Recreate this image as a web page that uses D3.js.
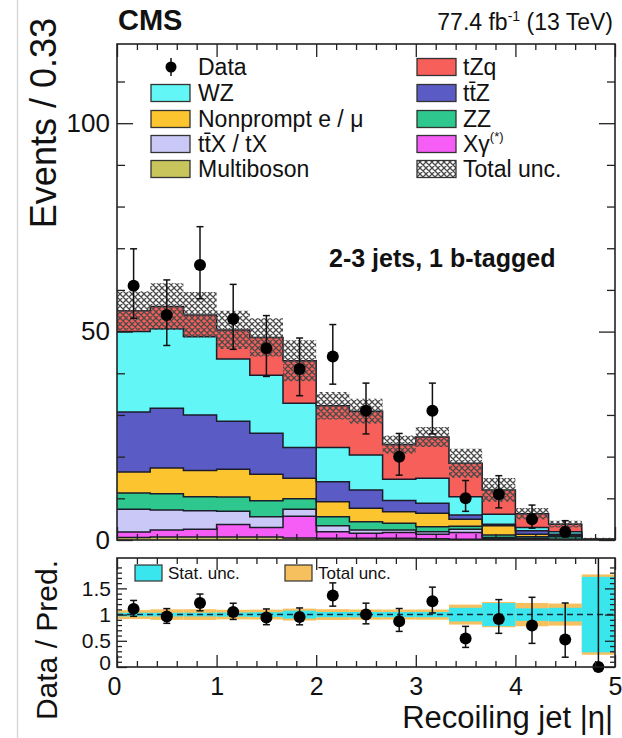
<!DOCTYPE html>
<html>
<head>
<meta charset="utf-8">
<script src="https://cdn.jsdelivr.net/npm/d3@7"></script>
<style>
  body { margin: 0; background: #fff; }
  svg { display: block; }
  text { font-family: "Liberation Sans", Arial, Helvetica, sans-serif; fill: #111; }
</style>
</head>
<body>
<svg id="chart" width="622" height="738"></svg>
<script>
// ---- binning: recoiling jet |eta| from 0 to 5 in 15 bins ----
const nBins = 15;
const etaMax = 5;

// ---- observed events per bin ----
const dataCounts   = [61, 54, 66, 53, 46, 41, 44, 31, 20, 31, 10, 11, 5, 2, 0];
const dataErrLow   = [7.79, 7.33, 8.11, 7.26, 6.76, 6.38, 6.61, 5.55, 4.44, 5.55, 3.12, 3.29, 2.16, 1.29, 0];
const dataErrHigh  = [8.86, 8.40, 9.17, 8.33, 7.84, 7.46, 7.69, 6.64, 5.56, 6.64, 4.27, 4.43, 3.38, 2.64, 1.84];

// ---- predicted yields per process (stacked bottom to top) ----
const multiboson = [0.6, 0.7, 0.7, 0.7, 0.7, 0.5, 0.4, 0.4, 0.4, 0.3, 0.2, 0.1, 0.1, 0.05, 0.02];
const xgamma     = [1.3, 1.7, 1.9, 3.0, 2.3, 5.2, 1.6, 1.2, 1.4, 1.1, 1.6, 0.3, 0.1, 0.05, 0.01];
const ttxTx      = [5.5, 4.8, 4.4, 3.2, 2.6, 1.7, 1.4, 0.8, 0.6, 0.6, 0.8, 0.2, 0.2, 0.1, 0.02];
const zz         = [3.9, 3.9, 3.4, 3.4, 3.8, 2.5, 2.2, 2.0, 1.6, 1.2, 0.7, 0.6, 0.4, 0.6, 0.03];
const nonprompt  = [5.0, 6.2, 6.3, 6.7, 6.4, 4.9, 3.6, 3.2, 2.8, 3.2, 1.7, 2.2, 0.6, 0.2, 0.02];
const ttz        = [14.4, 14.3, 13.3, 11.5, 9.8, 7.4, 4.8, 4.4, 2.7, 2.4, 1.0, 0.4, 0.8, 0.4, 0.03];
const wz         = [19.3, 19.1, 18.8, 14.9, 13.9, 10.6, 8.2, 8.4, 5.1, 6.0, 4.4, 2.4, 0.8, 0.6, 0.07];
const tzq        = [5.0, 5.3, 5.2, 7.0, 9.1, 10.2, 10.0, 10.5, 8.3, 9.9, 8.0, 5.8, 3.3, 1.8, 0.1];

// ---- uncertainties on the prediction ----
const totalUnc   = [4.7, 5.6, 5.5, 4.6, 4.6, 4.9, 3.3, 3.0, 2.2, 2.4, 3.5, 2.9, 1.4, 0.8, 0.23];
const statUncRel = [0.035, 0.035, 0.035, 0.04, 0.045, 0.075, 0.05, 0.05, 0.05, 0.05, 0.13, 0.22, 0.12, 0.13, 0.72];

// ---- axis ticks ----
const xMajorTicks = [0, 1, 2, 3, 4, 5];
const yMainMajor  = [0, 50, 100];
const yRatioMajor = [0, 0.5, 1, 1.5];

const processes = [
  { key: "multiboson", label: "Multiboson", values: multiboson, color: "#c8c55c" },
  { key: "xgamma",     label: "Xγ",         values: xgamma,     color: "#f65cf6" },
  { key: "ttx",        label: "tt\u0304X / tX", values: ttxTx,  color: "#c9c8f6" },
  { key: "zz",         label: "ZZ",         values: zz,         color: "#2ec88e" },
  { key: "nonprompt",  label: "Nonprompt e / μ", values: nonprompt, color: "#fcc42e" },
  { key: "ttz",        label: "tt\u0304Z",  values: ttz,        color: "#5b5bc6" },
  { key: "wz",         label: "WZ",         values: wz,         color: "#62f6f6" },
  { key: "tzq",        label: "tZq",        values: tzq,        color: "#f65f5a" }
];
const colorOf = Object.fromEntries(processes.map(p => [p.key, p.color]));

const edges = d3.range(nBins + 1).map(i => i * etaMax / nBins);
const centers = d3.range(nBins).map(i => (edges[i] + edges[i + 1]) / 2);

const rows = d3.range(nBins).map(i => {
  const r = { bin: i };
  processes.forEach(p => { r[p.key] = p.values[i]; });
  return r;
});
const stacked = d3.stack().keys(processes.map(p => p.key))(rows);
const totals = rows.map((r, i) => d3.sum(processes, p => p.values[i]));

// ---- layout ----
const L = 117, R = 615;
const mainTop = 44, mainBot = 540;
const ratTop = 558, ratBot = 667;

const x = d3.scaleLinear().domain([0, etaMax]).range([L, R]);
const y = d3.scaleLinear().domain([0, 119]).range([mainBot, mainTop]);
const yr = d3.scaleLinear().domain([0, 2.08]).range([ratBot, ratTop]);

const svg = d3.select("#chart");
const defs = svg.append("defs");

const hatch = defs.append("pattern")
  .attr("id", "hatch").attr("width", 6).attr("height", 6)
  .attr("patternUnits", "userSpaceOnUse");
hatch.append("path").attr("d", "M0,0 L6,6 M6,0 L0,6 M-1,5 L1,7 M5,-1 L7,1")
  .attr("stroke", "#4a4a4a").attr("stroke-width", 1.3).attr("fill", "none");

defs.append("clipPath").attr("id", "clipMain")
  .append("rect").attr("x", L).attr("y", mainTop).attr("width", R - L).attr("height", mainBot - mainTop);
defs.append("clipPath").attr("id", "clipRatio")
  .append("rect").attr("x", L).attr("y", ratTop).attr("width", R - L).attr("height", ratBot - ratTop);

// page border line on the left
svg.append("line").attr("x1", 17.5).attr("x2", 17.5).attr("y1", 0).attr("y2", 738)
  .attr("stroke", "#d9d9d9").attr("stroke-width", 1.5);

// ---- step path helpers ----
function stepPoints(lo, hi) {
  const pts = [];
  for (let i = 0; i < nBins; i++) {
    pts.push({ x: edges[i], y0: lo(i), y1: hi(i) });
    pts.push({ x: edges[i + 1], y0: lo(i), y1: hi(i) });
  }
  return pts;
}
const stepArea = d3.area().x(d => x(d.x)).y0(d => y(d.y0)).y1(d => y(d.y1));
const stepLine = d3.line().x(d => x(d.x)).y(d => y(d.y1));

const main = svg.append("g").attr("clip-path", "url(#clipMain)");

// stacked fills
stacked.forEach(layer => {
  const pts = stepPoints(i => layer[i][0], i => layer[i][1]);
  main.append("path").attr("d", stepArea(pts)).attr("fill", colorOf[layer.key]);
});
// outlines of each stacked histogram
stacked.forEach(layer => {
  const pts = stepPoints(i => layer[i][0], i => layer[i][1]);
  main.append("path").attr("d", stepLine(pts))
    .attr("fill", "none").attr("stroke", "#1c1c2a").attr("stroke-width", 1.5);
});

// total uncertainty band
const uncPts = stepPoints(i => Math.max(0, totals[i] - totalUnc[i]), i => totals[i] + totalUnc[i]);
main.append("path").attr("d", stepArea(uncPts)).attr("fill", "url(#hatch)");

// data points
const capW = 3.5;
const dataG = svg.append("g");
d3.range(nBins).filter(i => dataCounts[i] > 0).forEach(i => {
  const cx = x(centers[i]);
  const yl = y(dataCounts[i] - dataErrLow[i]), yh = y(dataCounts[i] + dataErrHigh[i]);
  dataG.append("line").attr("x1", cx).attr("x2", cx).attr("y1", yl).attr("y2", yh)
    .attr("stroke", "#111").attr("stroke-width", 1.5);
  [yl, yh].forEach(v => dataG.append("line").attr("x1", cx - capW).attr("x2", cx + capW)
    .attr("y1", v).attr("y2", v).attr("stroke", "#111").attr("stroke-width", 1.5));
  dataG.append("circle").attr("cx", cx).attr("cy", y(dataCounts[i])).attr("r", 6).attr("fill", "#000");
});

// ---- axes of the main panel ----
function axisStyle(g) {
  g.select(".domain").remove();
  g.selectAll(".tick line").attr("stroke", "#222").attr("stroke-width", 1.3);
}
const minorX = d3.range(0, 5.001, 0.2).filter(v => Math.abs(v - Math.round(v)) > 1e-6);
const minorYMain = d3.range(10, 119, 10).filter(v => v % 50 !== 0);

svg.append("g").attr("transform", `translate(0,${mainBot})`)
  .call(d3.axisBottom(x).tickValues(xMajorTicks).tickSize(-13).tickFormat("")).call(axisStyle);
svg.append("g").attr("transform", `translate(0,${mainBot})`)
  .call(d3.axisBottom(x).tickValues(minorX).tickSize(-6).tickFormat("")).call(axisStyle);
svg.append("g").attr("transform", `translate(0,${mainTop})`)
  .call(d3.axisTop(x).tickValues(xMajorTicks).tickSize(-13).tickFormat("")).call(axisStyle);
svg.append("g").attr("transform", `translate(0,${mainTop})`)
  .call(d3.axisTop(x).tickValues(minorX).tickSize(-6).tickFormat("")).call(axisStyle);

const yMainLeft = svg.append("g").attr("transform", `translate(${L},0)`)
  .call(d3.axisLeft(y).tickValues(yMainMajor).tickSize(-16).tickPadding(7).tickFormat(d3.format("d")))
  .call(axisStyle);
yMainLeft.selectAll("text").attr("font-size", 26).attr("fill", "#222")
  .style("font-family", '"Liberation Sans", Arial, sans-serif');
svg.append("g").attr("transform", `translate(${L},0)`)
  .call(d3.axisLeft(y).tickValues(minorYMain).tickSize(-8).tickFormat("")).call(axisStyle);
svg.append("g").attr("transform", `translate(${R},0)`)
  .call(d3.axisRight(y).tickValues(yMainMajor).tickSize(-16).tickFormat("")).call(axisStyle);
svg.append("g").attr("transform", `translate(${R},0)`)
  .call(d3.axisRight(y).tickValues(minorYMain).tickSize(-8).tickFormat("")).call(axisStyle);

svg.append("rect").attr("x", L).attr("y", mainTop).attr("width", R - L).attr("height", mainBot - mainTop)
  .attr("fill", "none").attr("stroke", "#222").attr("stroke-width", 1.6);

// ---- ratio panel ----
const ratio = svg.append("g").attr("clip-path", "url(#clipRatio)");
d3.range(nBins).forEach(i => {
  const rel = totalUnc[i] / totals[i];
  ratio.append("rect").attr("x", x(edges[i])).attr("width", x(edges[i + 1]) - x(edges[i]))
    .attr("y", yr(1 + rel)).attr("height", yr(1 - rel) - yr(1 + rel)).attr("fill", "#f7c05e");
});
d3.range(nBins).forEach(i => {
  const rel = statUncRel[i];
  ratio.append("rect").attr("x", x(edges[i])).attr("width", x(edges[i + 1]) - x(edges[i]))
    .attr("y", yr(1 + rel)).attr("height", yr(1 - rel) - yr(1 + rel)).attr("fill", "#3ae6ee");
});
ratio.append("line").attr("x1", L).attr("x2", R).attr("y1", yr(1)).attr("y2", yr(1))
  .attr("stroke", "#1a2a3a").attr("stroke-width", 1.5).attr("stroke-dasharray", "6,4");

d3.range(nBins).forEach(i => {
  const cx = x(centers[i]);
  const rv = dataCounts[i] / totals[i];
  const yl = yr(rv - dataErrLow[i] / totals[i]), yh = yr(rv + dataErrHigh[i] / totals[i]);
  ratio.append("line").attr("x1", cx).attr("x2", cx).attr("y1", yl).attr("y2", yh)
    .attr("stroke", "#111").attr("stroke-width", 1.5);
  [yl, yh].forEach(v => ratio.append("line").attr("x1", cx - capW).attr("x2", cx + capW)
    .attr("y1", v).attr("y2", v).attr("stroke", "#111").attr("stroke-width", 1.5));
});
// markers are not clipped so the zero point sits on the frame
d3.range(nBins).forEach(i => {
  svg.append("circle").attr("cx", x(centers[i])).attr("cy", yr(dataCounts[i] / totals[i]))
    .attr("r", 6).attr("fill", "#000");
});

const minorYRatio = d3.range(0.1, 2.08, 0.1).filter(v => Math.abs(v * 2 - Math.round(v * 2)) > 1e-6);
const xr = svg.append("g").attr("transform", `translate(0,${ratBot})`)
  .call(d3.axisBottom(x).tickValues(xMajorTicks).tickSize(-12).tickPadding(10).tickFormat(d3.format("d")))
  .call(axisStyle);
xr.selectAll("text").attr("font-size", 25).attr("fill", "#222")
  .style("font-family", '"Liberation Sans", Arial, sans-serif')
  .attr("dx", d => d === 0 ? -3 : 0);
svg.append("g").attr("transform", `translate(0,${ratBot})`)
  .call(d3.axisBottom(x).tickValues(minorX).tickSize(-6).tickFormat("")).call(axisStyle);
svg.append("g").attr("transform", `translate(0,${ratTop})`)
  .call(d3.axisTop(x).tickValues(xMajorTicks).tickSize(-12).tickFormat("")).call(axisStyle);
svg.append("g").attr("transform", `translate(0,${ratTop})`)
  .call(d3.axisTop(x).tickValues(minorX).tickSize(-6).tickFormat("")).call(axisStyle);

const yrl = svg.append("g").attr("transform", `translate(${L},0)`)
  .call(d3.axisLeft(yr).tickValues(yRatioMajor).tickSize(-10).tickPadding(6).tickFormat(d => String(d)))
  .call(axisStyle);
yrl.selectAll("text").attr("font-size", 21).attr("fill", "#222")
  .style("font-family", '"Liberation Sans", Arial, sans-serif')
  .attr("dy", d => d === 0 ? "0.12em" : "0.32em");
svg.append("g").attr("transform", `translate(${L},0)`)
  .call(d3.axisLeft(yr).tickValues(minorYRatio).tickSize(-5).tickFormat("")).call(axisStyle);
svg.append("g").attr("transform", `translate(${R},0)`)
  .call(d3.axisRight(yr).tickValues(yRatioMajor).tickSize(-10).tickFormat("")).call(axisStyle);
svg.append("g").attr("transform", `translate(${R},0)`)
  .call(d3.axisRight(yr).tickValues(minorYRatio).tickSize(-5).tickFormat("")).call(axisStyle);

svg.append("rect").attr("x", L).attr("y", ratTop).attr("width", R - L).attr("height", ratBot - ratTop)
  .attr("fill", "none").attr("stroke", "#222").attr("stroke-width", 1.6);

// ratio legend
[{ label: "Stat. unc.", color: "#3ae6ee", bx: 135 }, { label: "Total unc.", color: "#f7c05e", bx: 285 }]
  .forEach(d => {
    svg.append("rect").attr("x", d.bx).attr("y", 565).attr("width", 27).attr("height", 16)
      .attr("fill", d.color).attr("stroke", "#333").attr("stroke-width", 1.2);
    svg.append("text").attr("x", d.bx + 33).attr("y", 579).attr("font-size", 17).attr("fill", "#333")
      .text(d.label);
  });

// ---- titles ----
svg.append("text").attr("x", 118).attr("y", 30).attr("font-size", 29).attr("font-weight", "bold")
  .text("CMS");
const lumi = svg.append("text").attr("x", 613).attr("y", 30).attr("font-size", 23)
  .attr("text-anchor", "end").attr("fill", "#222");
lumi.append("tspan").text("77.4 fb");
lumi.append("tspan").attr("font-size", 14).attr("dy", -9).text("-1");
lumi.append("tspan").attr("dy", 9).text(" (13 TeV)");

svg.append("text").attr("x", 329).attr("y", 267).attr("font-size", 25).attr("font-weight", "bold")
  .text("2-3 jets, 1 b-tagged");

svg.append("text").attr("transform", "translate(56,18) rotate(-90)")
  .attr("text-anchor", "end").attr("font-size", 36).attr("fill", "#222")
  .text("Events / 0.33");
svg.append("text").attr("transform", "translate(57,560) rotate(-90)")
  .attr("text-anchor", "end").attr("font-size", 30).attr("fill", "#222")
  .text("Data / Pred.");
svg.append("text").attr("x", 613).attr("y", 728).attr("font-size", 31).attr("text-anchor", "end")
  .attr("fill", "#222").text("Recoiling jet |η|");

// ---- main legend ----
const rowY = [67, 93, 119, 144, 169];
const legLeft = [
  { type: "data", label: "Data" },
  { type: "box", key: "wz", label: "WZ" },
  { type: "box", key: "nonprompt", label: "Nonprompt e / μ" },
  { type: "box", key: "ttx", label: "tt\u0304X / tX" },
  { type: "box", key: "multiboson", label: "Multiboson" }
];
const legRight = [
  { type: "box", key: "tzq", label: "tZq" },
  { type: "box", key: "ttz", label: "tt\u0304Z" },
  { type: "box", key: "zz", label: "ZZ" },
  { type: "box", key: "xgamma", label: "Xγ", sup: "(*)" },
  { type: "hatch", label: "Total unc." }
];
function drawLegend(items, bx, tx) {
  items.forEach((d, k) => {
    const cy = rowY[k];
    if (d.type === "data") {
      const mx = bx + 20;
      svg.append("line").attr("x1", mx).attr("x2", mx).attr("y1", cy - 9).attr("y2", cy + 9)
        .attr("stroke", "#111").attr("stroke-width", 1.5);
      svg.append("circle").attr("cx", mx).attr("cy", cy).attr("r", 5.5).attr("fill", "#000");
    } else {
      const fill = d.type === "hatch" ? "url(#hatch)" : colorOf[d.key];
      svg.append("rect").attr("x", bx).attr("y", cy - 8.5).attr("width", 39).attr("height", 17)
        .attr("fill", fill).attr("stroke", "#333").attr("stroke-width", 1.3);
    }
    const t = svg.append("text").attr("x", tx).attr("y", cy + 8).attr("font-size", 23).attr("fill", "#1a1a1a");
    t.append("tspan").text(d.label);
    if (d.sup) t.append("tspan").attr("font-size", 13).attr("dy", -11).text(d.sup);
  });
}
drawLegend(legLeft, 151, 198);
drawLegend(legRight, 417, 463);
</script>
</body>
</html>
